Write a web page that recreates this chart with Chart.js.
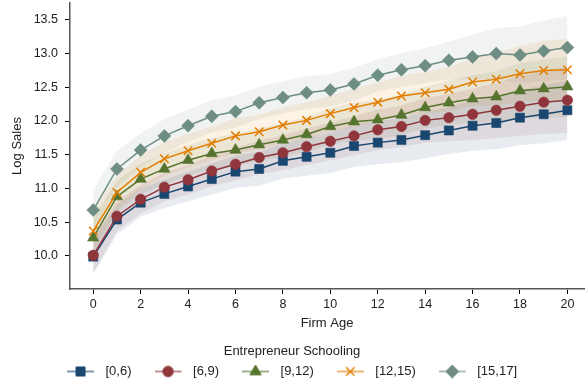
<!DOCTYPE html>
<html>
<head>
<meta charset="utf-8">
<script src="https://cdn.jsdelivr.net/npm/chart.js@4.4.1/dist/chart.umd.min.js"></script>
<style>
  html, body { margin: 0; padding: 0; background: #fff; }
  #grafico { display: block; }
</style>
</head>
<body>
<canvas id="grafico" width="585" height="388"></canvas>
<script>
const firmAge = [0,1,2,3,4,5,6,7,8,9,10,11,12,13,14,15,16,17,18,19,20];
const xTicks = [0,2,4,6,8,10,12,14,16,18,20];
const yTicks = [10,10.5,11,11.5,12,12.5,13,13.5];

const labels = ['[0,6)','[6,9)','[9,12)','[12,15)','[15,17]'];

const school0 = [9.99,10.54,10.79,10.92,11.03,11.14,11.25,11.29,11.41,11.47,11.53,11.63,11.68,11.72,11.79,11.86,11.93,11.97,12.05,12.10,12.16];
const school6 = [10.01,10.59,10.84,11.02,11.13,11.26,11.36,11.46,11.53,11.62,11.70,11.78,11.87,11.92,12.01,12.05,12.10,12.16,12.22,12.28,12.31];
const school9 = [10.27,10.88,11.14,11.29,11.42,11.52,11.57,11.65,11.72,11.80,11.92,11.99,12.02,12.09,12.20,12.27,12.33,12.36,12.45,12.48,12.51];
const school12 = [10.37,10.94,11.24,11.44,11.56,11.67,11.78,11.84,11.94,12.01,12.11,12.20,12.28,12.37,12.42,12.47,12.58,12.62,12.70,12.75,12.76];
const school15 = [10.68,11.29,11.57,11.78,11.93,12.07,12.14,12.27,12.35,12.42,12.46,12.55,12.68,12.76,12.82,12.90,12.95,13.00,12.98,13.04,13.09];

// half width of the confidence bands
const ci0 = [0.26,0.22,0.21,0.21,0.22,0.23,0.24,0.25,0.26,0.28,0.30,0.31,0.32,0.33,0.34,0.35,0.37,0.39,0.41,0.43,0.44];
const ci6 = [0.26,0.22,0.21,0.21,0.22,0.23,0.24,0.25,0.26,0.27,0.28,0.29,0.30,0.31,0.33,0.35,0.38,0.41,0.44,0.47,0.49];
const ci9 = [0.28,0.24,0.23,0.23,0.23,0.23,0.24,0.24,0.25,0.26,0.27,0.28,0.29,0.30,0.31,0.33,0.35,0.38,0.41,0.43,0.45];
const ci12 = [0.30,0.26,0.25,0.25,0.25,0.25,0.26,0.26,0.26,0.27,0.27,0.28,0.29,0.30,0.31,0.33,0.36,0.39,0.42,0.44,0.46];
const ci15 = [0.30,0.27,0.25,0.25,0.24,0.24,0.24,0.24,0.24,0.24,0.24,0.24,0.24,0.25,0.26,0.28,0.33,0.38,0.42,0.45,0.47];

const series = [school0, school6, school9, school12, school15];
const bands = [ci0, ci6, ci9, ci12, ci15];
const cores = [[26,71,111],[144,53,59],[85,117,47],[227,126,0],[110,142,132]];
const simbolos = ['rect','circle','triangle','crossRot','rectRot'];
const raios = [6.4,5.2,6.5,6,6.5];

function rgba(c, a) { return 'rgba(' + c[0] + ',' + c[1] + ',' + c[2] + ',' + a + ')'; }
function pts(vals) { return vals.map((v, i) => ({x: firmAge[i], y: v})); }

// legend icon: short line with the marker, small gap before the text
function iconeLegenda(i) {
  const c = document.createElement('canvas');
  c.width = 32; c.height = 14;
  const g = c.getContext('2d');
  g.strokeStyle = rgba(cores[i], 0.75);
  g.lineWidth = 1.5;
  g.beginPath(); g.moveTo(0, 7); g.lineTo(27, 7); g.stroke();
  g.fillStyle = rgba(cores[i], 1);
  g.strokeStyle = rgba(cores[i], 1);
  g.lineWidth = simbolos[i] == 'crossRot' ? 1.5 : 1;
  Chart.helpers.drawPoint(g, {pointStyle: simbolos[i], radius: raios[i], rotation: 0, borderWidth: g.lineWidth}, 13.5, 7);
  return c;
}

const datasets = [];
series.forEach((s, i) => {
  datasets.push({
    label: labels[i],
    data: pts(s),
    borderColor: rgba(cores[i], 1),
    backgroundColor: rgba(cores[i], 1),
    borderWidth: 1.5,
    pointStyle: simbolos[i],
    pointRadius: raios[i],
    pointBorderWidth: simbolos[i] == 'crossRot' ? 1.5 : 1,
    pointBorderColor: simbolos[i] == 'crossRot' ? rgba(cores[i], 1) : rgba(cores[i], 0.6),
    tension: 0,
    fill: false,
    order: 5 - i
  });
});
series.forEach((s, i) => {
  datasets.push({
    label: 'lo' + i,
    data: pts(s.map((v, k) => v - bands[i][k])),
    borderWidth: 0, pointRadius: 0, fill: false, order: 10 + i
  });
  datasets.push({
    label: 'hi' + i,
    data: pts(s.map((v, k) => v + bands[i][k])),
    borderWidth: 0, pointRadius: 0,
    backgroundColor: rgba(cores[i], 0.1),
    fill: '-1', order: 10 + i
  });
});

const ctx = document.getElementById('grafico');
Chart.defaults.font.family = '"Liberation Sans", Arial, sans-serif';
Chart.defaults.color = '#222';

new Chart(ctx, {
  type: 'line',
  data: { datasets: datasets },
  options: {
    responsive: false,
    animation: false,
    layout: { autoPadding: false, padding: { top: 3, right: 1, left: 0, bottom: 0 } },
    plugins: {
      tooltip: { enabled: false },
      legend: {
        position: 'bottom',
        title: { display: true, text: 'Entrepreneur Schooling', font: { size: 13 }, padding: { top: 12.4, bottom: -19 } },
        labels: {
          usePointStyle: true,
          pointStyleWidth: 32,
          padding: 23,
          font: { size: 13 },
          generateLabels: function(chart) {
            return labels.map((t, i) => ({
              text: t,
              pointStyle: iconeLegenda(i),
              datasetIndex: i,
              fontColor: '#222',
              lineWidth: 0,
              hidden: false
            }));
          }
        }
      }
    },
    scales: {
      x: {
        type: 'linear',
        min: -0.98,
        max: 20.7,
        afterBuildTicks: (s) => { s.ticks = xTicks.map(v => ({value: v})); },
        afterFit: (s) => { s.height = 44; s.paddingLeft = 0; s.paddingRight = 0; },
        grid: { display: true, drawOnChartArea: false, tickLength: 5, color: '#000', tickWidth: 1 },
        border: { color: '#555', width: 1.5 },
        ticks: { font: { size: 12.5 }, padding: 3, color: '#222' },
        title: { display: true, text: 'Firm Age', font: { size: 13 }, padding: { top: 2, bottom: 2 }, color: '#222' }
      },
      y: {
        type: 'linear',
        min: 9.51,
        max: 13.75,
        afterBuildTicks: (s) => { s.ticks = yTicks.map(v => ({value: v})); },
        afterFit: (s) => { s.width = 70; s.paddingTop = 0; s.paddingBottom = 0; },
        grid: { display: true, drawOnChartArea: false, tickLength: 5, color: '#000', tickWidth: 1 },
        border: { color: '#555', width: 1.5 },
        ticks: { font: { size: 12.5 }, padding: 7, color: '#222', callback: (v) => v.toFixed(1) },
        title: { display: true, text: 'Log Sales', font: { size: 13 }, padding: { top: 10, bottom: 0 }, color: '#222' }
      }
    }
  }
});
</script>
</body>
</html>
